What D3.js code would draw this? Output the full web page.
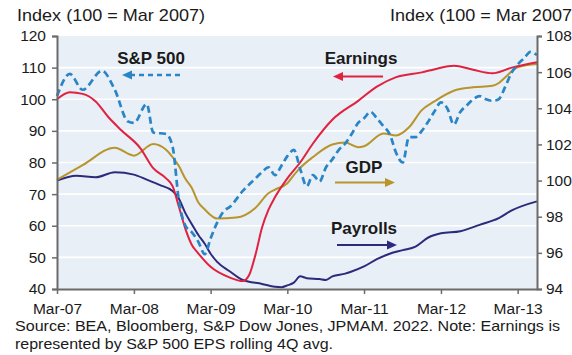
<!DOCTYPE html>
<html>
<head>
<meta charset="utf-8">
<script src="https://cdn.jsdelivr.net/npm/d3@7"></script>
<style>
  html, body { margin: 0; padding: 0; background: #fff; overflow: hidden; }
  svg { display: block; font-family: "Liberation Sans", Arial, sans-serif; }
</style>
</head>
<body>
<svg id="chart" width="572" height="355"></svg>
<script>
// ---- Data: index levels (100 = Mar 2007) ----
// S&P 500 price index (left axis)
const spDates = ["2007-03","2007-05","2007-07","2007-10","2007-12","2008-02","2008-03","2008-05","2008-06","2008-08",
  "2008-09","2008-10","2008-11","2008-12","2009-01","2009-02","2009-03","2009-04","2009-05","2009-06",
  "2009-08","2009-10","2009-11","2009-12","2010-01","2010-02","2010-03","2010-04","2010-05","2010-06",
  "2010-07","2010-08","2010-09","2010-10","2010-11","2010-12","2011-01","2011-02","2011-03","2011-04",
  "2011-05","2011-06","2011-07","2011-08","2011-09","2011-10","2011-11","2011-12","2012-01","2012-02",
  "2012-03","2012-04","2012-05","2012-06","2012-07","2012-08","2012-09","2012-10","2012-11","2012-12",
  "2013-01","2013-02","2013-03","2013-04","2013-05","2013-06"];
const spValues = [101,108,103,109,103,93,92.5,98.5,89.5,89,
  85,68,60,58,55,51,56,61,64.5,66,
  71,75,77,78.5,76,79,82,84,78,72.5,
  76,74,78.5,81,84,86,89,92.5,94,96,
  94,91.5,89,83,80,88,88,90,93,96.4,
  99,97,92,96,98,100,101,100,99.5,100,
  104,108.5,111,113,115,114];

// S&P 500 EPS, rolling 4Q average (left axis)
const earnDates = ["2007-03","2007-05","2007-07","2007-09","2007-11","2008-01","2008-04","2008-06","2008-08","2008-09",
  "2008-10","2008-11","2008-12","2009-01","2009-03","2009-06","2009-08","2009-09","2009-10","2009-11",
  "2009-12","2010-01","2010-03","2010-05","2010-07","2010-10","2011-02","2011-05","2011-08","2011-12",
  "2012-02","2012-05","2012-08","2012-11","2013-02","2013-06"];
const earnValues = [100,102.2,101.7,99.3,94.3,90.2,84.5,78.2,75,72.5,
  66,59,54,51.3,47,43.6,42.5,44.5,51,59.5,
  65,69,75,80,86,93.5,99.5,104,107,108.5,
  109.5,110.6,109.3,108.2,110,111.7];

// Real GDP (right axis)
const gdpDates = ["2007-03","2007-07","2007-12","2008-03","2008-06","2008-08","2008-09","2008-10","2008-11","2008-12",
  "2009-01","2009-02","2009-04","2009-07","2009-10","2009-12","2010-01","2010-03","2010-04","2010-05",
  "2010-07","2010-10","2010-12","2011-02","2011-03","2011-06","2011-08","2011-10","2011-12","2012-02",
  "2012-05","2012-08","2012-11","2012-12","2013-01","2013-03","2013-06"];
const gdpValues = [100.05,100.85,101.82,101.38,102.02,101.7,101.3,100.8,100.1,99.6,
  98.8,98.4,97.9,97.95,98.5,99.3,99.5,99.85,100.3,100.7,
  101.3,102,102.1,101.85,101.9,102.6,102.5,102.95,103.9,104.4,
  104.97,105.16,105.25,105.4,105.72,106.27,106.45];

// Nonfarm payrolls (right axis)
const payDates = ["2007-03","2007-06","2007-09","2007-12","2008-03","2008-05","2008-07","2008-09","2008-10","2008-11",
  "2008-12","2009-01","2009-02","2009-03","2009-04","2009-06","2009-08","2009-11","2010-01","2010-02",
  "2010-03","2010-04","2010-05","2010-06","2010-08","2010-09","2010-10","2010-12","2011-01","2011-03",
  "2011-05","2011-07","2011-09","2011-11","2012-01","2012-03","2012-06","2012-09","2012-12","2013-02","2013-06"];
const payValues = [100,100.27,100.18,100.46,100.33,100.05,99.76,99.42,99.0,98.2,
  97.6,97.0,96.5,95.95,95.5,94.97,94.5,94.28,94.12,94.1,
  94.2,94.35,94.7,94.6,94.55,94.5,94.7,94.85,94.97,95.25,
  95.65,95.95,96.15,96.35,96.85,97.08,97.2,97.55,97.92,98.35,98.85];

// Axis ticks and labels
const xTickDates = ["2007-03","2008-03","2009-03","2010-03","2011-03","2012-03","2013-03"];
const leftTicks = [40,50,60,70,80,90,100,110,120];
const rightTicks = [94,96,98,100,102,104,106,108];
const axisTitle = "Index (100 = Mar 2007)";
const sourceLines = [
  "Source: BEA, Bloomberg, S&P Dow Jones, JPMAM. 2022. Note: Earnings is",
  "represented by S&P 500 EPS rolling 4Q avg."
];

// ---- Layout ----
const plot = { left: 57, right: 537, top: 36, bottom: 289 };
const colors = { sp: "#2a85c6", earn: "#e0213f", gdp: "#b8952c", pay: "#2d2a7c",
  bg: "#e8eff6", axis: "#6b6b6b", text: "#1a1a1a" };

const parse = d3.timeParse("%Y-%m");
const svg = d3.select("#chart");

const x = d3.scaleTime()
  .domain([parse("2007-03"), parse("2013-06")])
  .range([plot.left, plot.right]);
const yL = d3.scaleLinear().domain([40, 120]).range([plot.bottom, plot.top]);
const yR = d3.scaleLinear().domain([94, 108]).range([plot.bottom, plot.top]);

const zip = (ds, vs) => ds.map((d, i) => ({ date: parse(d), value: vs[i] }));

// Plot background and horizontal grid
svg.append("rect")
  .attr("x", plot.left).attr("y", plot.top)
  .attr("width", plot.right - plot.left).attr("height", plot.bottom - plot.top)
  .attr("fill", colors.bg);

svg.append("g").selectAll("line")
  .data(leftTicks.slice(1, -1))
  .join("line")
  .attr("x1", plot.left).attr("x2", plot.right)
  .attr("y1", d => yL(d)).attr("y2", d => yL(d))
  .attr("stroke", "#ffffff").attr("stroke-width", 1.6);

// Series lines
function drawLine(data, yScale, color, dashed) {
  const line = d3.line()
    .x(d => x(d.date)).y(d => yScale(d.value))
    .curve(d3.curveMonotoneX);
  const p = svg.append("path")
    .datum(data)
    .attr("d", line)
    .attr("fill", "none")
    .attr("stroke", color)
    .attr("stroke-width", dashed ? 2.7 : 2)
    .attr("stroke-linejoin", "round");
  if (dashed) p.attr("stroke-dasharray", "7,4");
}
drawLine(zip(payDates, payValues), yR, colors.pay, false);
drawLine(zip(gdpDates, gdpValues), yR, colors.gdp, false);
drawLine(zip(earnDates, earnValues), yL, colors.earn, false);
drawLine(zip(spDates, spValues), yL, colors.sp, true);

// Axes
const axisStyle = g => {
  g.select(".domain").attr("stroke", colors.axis).attr("stroke-width", 2);
  g.selectAll(".tick line").attr("stroke", colors.axis).attr("stroke-width", 1.5);
  g.selectAll("text")
    .attr("font-size", 15.5).attr("fill", colors.text)
    .attr("font-family", "Liberation Sans, Arial, sans-serif");
};

svg.append("g")
  .attr("transform", `translate(${plot.left},0)`)
  .call(d3.axisLeft(yL).tickValues(leftTicks).tickSize(5).tickSizeOuter(5).tickPadding(6))
  .call(axisStyle);

svg.append("g")
  .attr("transform", `translate(${plot.right},0)`)
  .call(d3.axisRight(yR).tickValues(rightTicks).tickSize(5).tickSizeOuter(5).tickPadding(4))
  .call(axisStyle);

svg.append("g")
  .attr("transform", `translate(0,${plot.bottom})`)
  .call(d3.axisBottom(x).tickValues(xTickDates.map(parse))
    .tickFormat(d3.timeFormat("%b-%y")).tickSize(5).tickSizeOuter(0).tickPadding(9))
  .call(axisStyle);

// Axis titles (the right one runs past the page edge)
[17, 390].forEach(tx => {
  svg.append("text").attr("x", tx).attr("y", 20.5)
    .attr("font-size", 17).attr("fill", colors.text)
    .attr("textLength", 188).attr("lengthAdjust", "spacingAndGlyphs")
    .text(axisTitle);
});

// Series labels with arrows pointing to their axis
const labels = [
  { text: "S&P 500", x: 151, y: 64, color: colors.sp, x1: 180, x2: 122, ay: 75, dashed: true },
  { text: "Earnings", x: 361, y: 64, color: colors.earn, x1: 383, x2: 333, ay: 76.5 },
  { text: "GDP", x: 364, y: 173, color: colors.gdp, x1: 335, x2: 395, ay: 182.5 },
  { text: "Payrolls", x: 364, y: 234, color: colors.pay, x1: 337, x2: 397, ay: 245 }
];

labels.forEach(l => {
  svg.append("text")
    .attr("x", l.x).attr("y", l.y)
    .attr("text-anchor", "middle")
    .attr("font-size", 17).attr("font-weight", "bold")
    .attr("fill", colors.text).text(l.text);
  const dir = Math.sign(l.x2 - l.x1);
  const headLen = 10, headHalf = 4.5;
  svg.append("line")
    .attr("x1", l.x1).attr("x2", l.x2 - dir * headLen)
    .attr("y1", l.ay).attr("y2", l.ay)
    .attr("stroke", l.color).attr("stroke-width", l.dashed ? 2.4 : 1.8)
    .attr("stroke-dasharray", l.dashed ? "5,4" : null);
  svg.append("path")
    .attr("d", `M${l.x2},${l.ay} L${l.x2 - dir * headLen},${l.ay - headHalf} L${l.x2 - dir * headLen},${l.ay + headHalf} Z`)
    .attr("fill", l.color);
});

// Source note
const sourceWidths = [545, 318];
svg.append("g").selectAll("text")
  .data(sourceLines)
  .join("text")
  .attr("x", 15)
  .attr("y", (d, i) => 331 + i * 18)
  .attr("font-size", 14.5)
  .attr("fill", colors.text)
  .attr("textLength", (d, i) => sourceWidths[i])
  .attr("lengthAdjust", "spacingAndGlyphs")
  .text(d => d);
</script>
</body>
</html>
